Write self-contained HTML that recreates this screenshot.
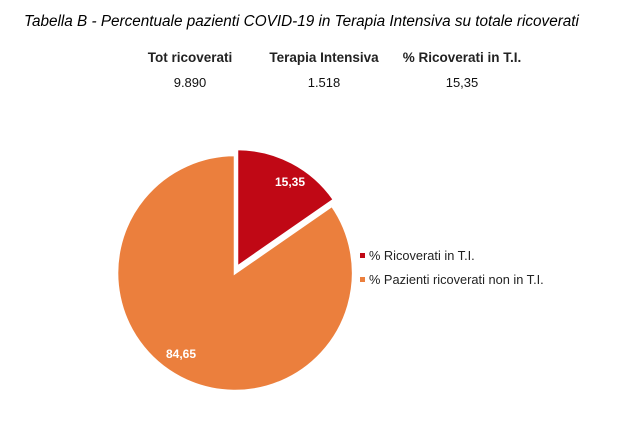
<!DOCTYPE html>
<html><head><meta charset="utf-8"><style>
html,body{margin:0;padding:0;background:#fff;width:625px;height:446px;overflow:hidden}
svg{display:block}
</style></head><body>
<svg width="625" height="446" xmlns="http://www.w3.org/2000/svg" font-family="Liberation Sans, Arial, sans-serif">
<text x="24" y="26" font-size="15.3" font-style="italic" fill="#000">Tabella B - Percentuale pazienti COVID-19 in Terapia Intensiva su totale ricoverati</text>
<g font-size="13.5" font-weight="bold" fill="#222" text-anchor="middle">
<text x="190" y="62">Tot ricoverati</text>
<text x="324" y="62">Terapia Intensiva</text>
<text x="462" y="62">% Ricoverati in T.I.</text>
</g>
<g font-size="13" fill="#111" text-anchor="middle">
<text x="190" y="87">9.890</text>
<text x="324" y="87">1.518</text>
<text x="462" y="87">15,35</text>
</g>
<path d="M235,273 L332,205.7 A118,118 0 1 1 235,155 Z" fill="#eb7f3d" stroke="#fff" stroke-width="2.5"/>
<path d="M237,267 L237,149 A118,118 0 0 1 334,199.7 Z" fill="#c00815" stroke="#fff" stroke-width="2.5"/>
<text x="290" y="186" font-size="12" font-weight="bold" fill="#fff" text-anchor="middle">15,35</text>
<text x="181" y="358" font-size="12" font-weight="bold" fill="#fff" text-anchor="middle">84,65</text>
<rect x="360" y="253" width="5" height="5" fill="#c00815"/>
<text x="369" y="260" font-size="12.8" fill="#222">% Ricoverati in T.I.</text>
<rect x="360" y="277" width="5" height="5" fill="#eb7f3d"/>
<text x="369" y="284" font-size="12.8" fill="#222">% Pazienti ricoverati non in T.I.</text>
</svg>
</body></html>
